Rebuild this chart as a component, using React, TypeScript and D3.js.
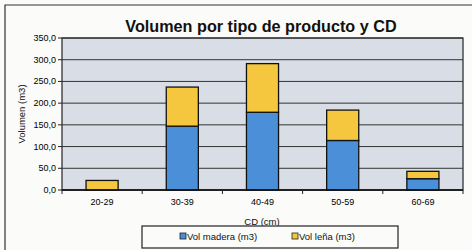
import React from "react";
import * as d3 from "d3";

const categories = ["20-29", "30-39", "40-49", "50-59", "60-69"];
const volMadera = [0, 147, 179, 114, 26];
const volLena = [22, 90, 112, 70, 17];
const yTicks = [0, 50, 100, 150, 200, 250, 300, 350];
const seriesNames = ["Vol madera (m3)", "Vol leña (m3)"];
const seriesColors = ["#4a8fd8", "#f4c73e"];

const W = 472, H = 250;
const plot = { left: 62, right: 463, top: 38, bottom: 190 };
const font = "'Liberation Sans', Arial, sans-serif";

export default function App() {
  const x = d3.scaleBand().domain(categories).range([plot.left, plot.right]).padding(0);
  const y = d3.scaleLinear().domain([0, 350]).range([plot.bottom, plot.top]);
  const barW = x.bandwidth() * 0.4;

  const rows = categories.map((c, i) => ({ cat: c, madera: volMadera[i], lena: volLena[i] }));
  const stacked = d3.stack<any>().keys(["madera", "lena"])(rows);

  return (
    <svg width={W} height={H} style={{ position: "absolute", left: 0, top: 0, background: "#fbfbfa" }}>
      {/* chart frame */}
      <path d={`M5,${H} L5,5 L${W},5`} fill="none" stroke="#333" strokeWidth={1.2} />

      <text x={261} y={32} textAnchor="middle" fontFamily={font} fontWeight="bold" fontSize={16.2} fill="#111">
        Volumen por tipo de producto y CD
      </text>

      {/* plot area */}
      <rect x={plot.left} y={plot.top} width={plot.right - plot.left} height={plot.bottom - plot.top}
        fill="#d9dee6" stroke="#222" strokeWidth={1.2} />
      {yTicks.map(t => (
        <g key={t}>
          <line x1={plot.left} x2={plot.right} y1={y(t)} y2={y(t)} stroke="#333" strokeWidth={1} />
          <line x1={plot.left - 4} x2={plot.left} y1={y(t)} y2={y(t)} stroke="#222" strokeWidth={1} />
          <text x={plot.left - 6} y={y(t) + 3} textAnchor="end" fontFamily={font} fontSize={9} fill="#000">
            {d3.format(".1f")(t).replace(".", ",")}
          </text>
        </g>
      ))}

      {/* bars */}
      {stacked.map((s, si) =>
        s.map((d, i) => {
          const h = y(d[0]) - y(d[1]);
          if (h <= 0) return null;
          return (
            <rect key={`${si}-${i}`} x={(x(categories[i]) as number) + (x.bandwidth() - barW) / 2}
              y={y(d[1])} width={barW} height={h}
              fill={seriesColors[si]} stroke="#111" strokeWidth={1.3} />
          );
        })
      )}

      {/* x axis */}
      <line x1={plot.left} x2={plot.right} y1={plot.bottom} y2={plot.bottom} stroke="#111" strokeWidth={1.5} />
      {categories.map((c, i) => (
        <g key={c}>
          <line x1={(x(c) as number) + x.bandwidth()} x2={(x(c) as number) + x.bandwidth()}
            y1={plot.bottom} y2={plot.bottom + 4} stroke="#222" />
          {i === 0 && <line x1={x(c)} x2={x(c)} y1={plot.bottom} y2={plot.bottom + 4} stroke="#222" />}
          <text x={(x(c) as number) + x.bandwidth() / 2} y={205} textAnchor="middle"
            fontFamily={font} fontSize={9} fill="#000">{c}</text>
        </g>
      ))}

      <text x={262} y={225} textAnchor="middle" fontFamily={font} fontSize={9.5} fill="#111">CD (cm)</text>
      <text transform={`translate(25,${(plot.top + plot.bottom) / 2}) rotate(-90)`} textAnchor="middle"
        fontFamily={font} fontSize={9.5} fill="#111">Volumen (m3)</text>

      {/* legend */}
      <rect x={142} y={226} width={256} height={22} fill="#fbfbfa" stroke="#222" strokeWidth={1.2} />
      {seriesNames.map((n, i) => {
        const lx = i === 0 ? 180 : 292;
        return (
          <g key={n}>
            <rect x={lx} y={233} width={6} height={6} fill={seriesColors[i]} stroke="#222" strokeWidth={0.8} />
            <text x={lx + 7} y={239.5} fontFamily={font} fontSize={9.5} fill="#111">{n}</text>
          </g>
        );
      })}
    </svg>
  );
}
